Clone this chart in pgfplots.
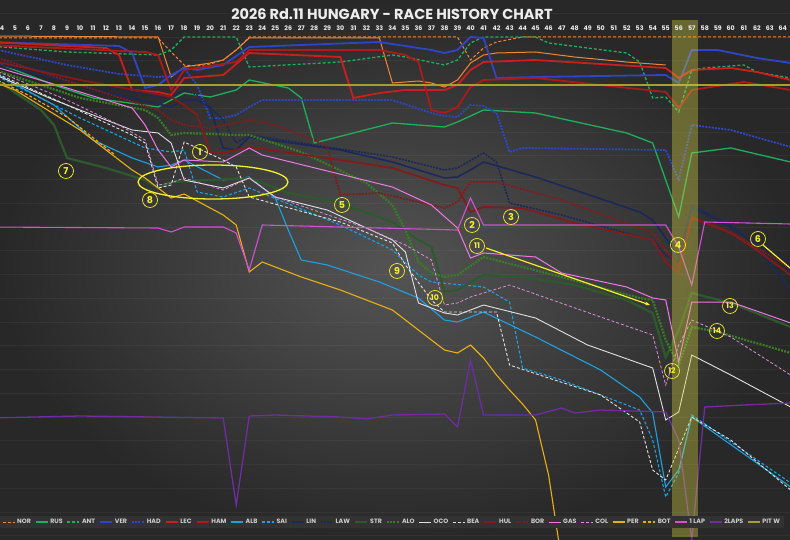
\documentclass[border=0pt]{standalone}
\usepackage{pgfplots}
\pgfplotsset{compat=1.18}
\usepackage{fontspec}
\setmainfont{Poppins}
\usetikzlibrary{arrows.meta}

\definecolor{bgin}{RGB}{84,84,84}
\definecolor{bgout}{RGB}{40,40,40}
\definecolor{cOR}{RGB}{240,135,50}
\definecolor{cMER}{RGB}{30,175,90}
\definecolor{cRB}{RGB}{45,70,200}
\definecolor{cFER}{RGB}{205,30,30}
\definecolor{cWIL}{RGB}{30,160,225}
\definecolor{cRBU}{RGB}{28,40,90}
\definecolor{cAMS}{RGB}{45,90,45}
\definecolor{cAMD}{RGB}{55,125,35}
\definecolor{cHAA}{RGB}{225,225,225}
\definecolor{cAUD}{RGB}{130,28,28}
\definecolor{cALP}{RGB}{240,120,230}
\definecolor{cALD}{RGB}{220,140,220}
\definecolor{cCAD}{RGB}{235,175,20}
\definecolor{cLAP}{RGB}{210,80,210}
\definecolor{cLAP2}{RGB}{110,45,160}
\definecolor{cPIT}{RGB}{165,160,45}
\definecolor{annY}{RGB}{245,240,40}
\definecolor{legbg}{RGB}{50,50,50}
\definecolor{legtx}{RGB}{205,205,205}

\tikzset{dsh/.style={dash pattern=on 3pt off 2pt}, dot/.style={dash pattern=on 2pt off 1.2pt}}

\begin{document}
\begin{tikzpicture}
\shade[inner color=bgin, outer color=bgout] (0,0) rectangle (790pt,540pt);
\begin{axis}[
  at={(0,0)}, anchor=south west, scale only axis, width=790pt, height=540pt,
  xmin=3.85, xmax=64.55, ymin=0, ymax=540, y dir=reverse,
  axis line style={draw=none}, xtick=\empty,
  ytick={13.25,37,...,540}, yticklabels={}, major tick length=0pt,
  ymajorgrids, grid style={white, opacity=0.045, line width=0.6pt},
  legend columns=-1,
  legend style={at={(0,0.0333)}, anchor=west, draw=none, fill=legbg,
    font=\fontsize{6.3}{7}\selectfont\bfseries, text=legtx,
    inner xsep=2pt, inner ysep=1pt,
    /tikz/every even column/.append style={column sep=2pt}},
  legend image code/.code={\draw[#1] (0pt,0pt) -- (12pt,0pt);},
  legend cell align=left,
]
% PIA (not in visible legend)
\addplot[cOR, line width=1pt, forget plot] coordinates {(3,36) (16,37) (17,77) (18,67) (19,65) (20,63) (21,60) (22,50) (23,38) (33,38) (34,83) (36,81) (37,83) (38,87) (39,80) (40,63) (41,55) (42,53) (45,52) (48,57) (52,62) (55,65)};
% NOR
\addplot[cOR, line width=1pt, dsh] coordinates {(3,38) (16,38) (17,52) (18,65) (19,66) (20,64) (21,60) (22,50) (23,37) (39,37) (40,60) (41,48) (42,42) (44,37) (64.6,37)};
\addlegendentry{NOR}
% RUS
\addplot[cMER, line width=1.3pt] coordinates {(3,60) (8,85) (11,98) (16,107) (17,100) (18,93) (20,97) (22,90) (23,80) (26,88) (27,98) (28,143) (31,133) (34,123) (38,127) (39,122) (41,110) (45,113) (52,133) (54,143) (56,217) (57,153) (60,148) (64.6,162)};
\addlegendentry{RUS}
% ANT
\addplot[cMER, line width=1.3pt, dsh] coordinates {(3,46) (9,52) (16,55) (17,50) (18,37) (22,37) (23,67) (30,62) (34,55) (35,57) (38,65) (39,60) (40,43) (41,37) (45,37) (46,43) (52,53) (53,62) (54,98) (55,97) (56,112) (57,70) (58,68) (61,65) (62,72) (64.6,78)};
\addlegendentry{ANT}
% VER
\addplot[cRB, line width=1.8pt] coordinates {(3,42) (13,46) (14,53) (15,88) (16,85) (17,75) (18,68) (19,70) (21,65) (23,47) (33,42) (37,50) (38,53) (39,50) (40,37) (41,38) (42,78) (45,77) (55,75) (56,83) (57,50) (59,50) (62,58) (64.6,63)};
\addlegendentry{VER}
% HAD
\addplot[cRB, line width=1.8pt, dot] coordinates {(3,48) (9,65) (13,74) (16,77) (17,76) (18,68) (19,85) (20,118) (21,118) (22,115) (23,107) (24,100) (34,100) (37,113) (38,116) (39,117) (40,105) (41,106) (42,113) (43,152) (44,148) (55,150) (56,180) (57,125) (60,130) (64.6,147)};
\addlegendentry{HAD}
% LEC
\addplot[cFER, line width=1.8pt] coordinates {(3,42) (12,48) (13,55) (14,90) (16,92) (17,95) (18,78) (21,75) (23,53) (30,57) (31,98) (33,93) (35,90) (38,90) (39,85) (40,70) (41,62) (45,60) (55,68) (56,78) (57,70) (60,68) (62,72) (64.6,80)};
\addlegendentry{LEC}
% HAM
\addplot[cFER!85!black, line width=1.8pt] coordinates {(3,45) (15,52) (16,55) (17,90) (18,70) (22,62) (23,50) (33,50) (35,55) (36,62) (37,110) (38,113) (39,107) (40,87) (41,80) (45,78) (55,92) (56,108) (57,90) (58,88) (61,82) (64.6,90)};
\addlegendentry{HAM}
% ALB
\addplot[cWIL, line width=1.1pt] coordinates {(3,70) (8,105) (11,140) (14,158) (16,167) (17,165) (18,160) (21,180) (23,177) (25,198) (26,230) (27,260) (29,265) (33,282) (36,298) (38,320) (39,322) (41,312) (45,337) (50,370) (53,397) (54,413) (55,487) (56,470) (57,417) (64.6,487)};
\addlegendentry{ALB}
% SAI
\addplot[cWIL, line width=1.1pt, dsh] coordinates {(3,72) (10,118) (15,148) (17,152) (18,150) (19,192) (21,197) (23,188) (30,225) (34,250) (36,275) (37,282) (41,287) (43,302) (44,368) (47,380) (50,395) (53,410) (54,440) (55,497) (56,473) (57,415) (64.6,483)};
\addlegendentry{SAI}
% LIN
\addplot[cRBU, line width=1.6pt] coordinates {(3,62) (8,78) (12,92) (16,104) (17,107) (18,100) (19,100) (20,108) (21,148) (22,150) (23,137) (30,150) (34,162) (38,178) (39,177) (40,170) (41,162) (45,177) (48,190) (53,212) (54,220) (55,238) (56,257) (57,208) (59,220) (61,235) (62,247) (64.6,290)};
\addlegendentry{LIN}
% LAW
\addplot[cRBU, line width=1.6pt, dot] coordinates {(3,57) (10,80) (16,97) (17,97) (18,90) (19,95) (20,107) (21,120) (22,143) (23,135) (27,143) (34,157) (38,170) (39,168) (41,153) (42,162) (43,203) (47,215) (53,237) (54,240) (55,255) (56,262) (57,205) (60,225) (62,245) (64.6,262)};
\addlegendentry{LAW}
% STR
\addplot[cAMS, line width=2.2pt] coordinates {(3,75) (7,110) (8,125) (9,158) (12,168) (15,180) (16,188) (17,182) (23,178) (26,193) (30,203) (34,222) (36,240) (37,247) (38,292) (39,290) (41,275) (44,277) (48,285) (52,300) (54,313) (55,357) (56,330) (57,293) (60,303) (64.6,327)};
\addlegendentry{STR}
% ALO
\addplot[cAMD, line width=2.2pt, dot] coordinates {(3,68) (10,98) (15,110) (16,118) (17,135) (18,133) (22,135) (23,135) (27,152) (32,183) (34,205) (35,230) (36,262) (37,273) (38,277) (39,275) (41,257) (47,277) (53,298) (54,300) (55,340) (56,365) (57,327) (59,332) (64.6,353)};
\addlegendentry{ALO}
% OCO
\addplot[cHAA, line width=0.9pt] coordinates {(3,72) (8,100) (14,130) (16,133) (17,143) (18,180) (21,188) (23,178) (25,197) (29,210) (34,240) (35,252) (36,303) (38,313) (39,315) (41,305) (45,318) (49,345) (54,368) (55,420) (56,412) (57,355) (60,375) (64.6,407)};
\addlegendentry{OCO}
% BEA
\addplot[cHAA, line width=0.9pt, dsh] coordinates {(3,70) (9,105) (14,135) (15,143) (16,188) (17,185) (18,142) (21,160) (22,167) (23,197) (30,222) (34,243) (35,265) (37,300) (38,312) (42,312) (43,365) (46,378) (50,395) (53,422) (54,470) (55,480) (57,417) (60,440) (64.6,490)};
\addlegendentry{BEA}
% HUL
\addplot[cAUD, line width=1.8pt] coordinates {(3,60) (10,80) (15,92) (17,97) (18,105) (19,115) (20,152) (21,153) (23,147) (30,160) (34,168) (38,185) (39,188) (40,212) (41,207) (44,208) (48,223) (54,240) (55,262) (56,273) (57,218) (60,233) (62,250) (64.6,275)};
\addlegendentry{HUL}
% BOR
\addplot[cAUD, line width=1.8pt, dot] coordinates {(3,55) (10,85) (16,110) (17,120) (18,125) (20,128) (23,120) (25,125) (28,140) (29,147) (30,195) (33,193) (37,205) (38,208) (39,202) (40,182) (42,182) (47,200) (53,228) (54,232) (55,250) (56,267) (57,217) (60,232) (64.6,268)};
\addlegendentry{BOR}
% GAS
\addplot[cALP, line width=1pt] coordinates {(3,65) (9,88) (14,108) (15,125) (16,150) (17,167) (18,160) (21,162) (23,148) (24,155) (34,187) (37,205) (39,228) (40,258) (41,253) (45,257) (47,273) (52,287) (54,298) (55,300) (56,362) (57,302) (60,302) (64.6,323)};
\addlegendentry{GAS}
% COL
\addplot[cALD, line width=0.8pt, dsh] coordinates {(3,68) (9,100) (13,125) (15,140) (16,185) (17,183) (18,178) (21,190) (23,178) (25,197) (32,228) (35,245) (37,260) (38,305) (39,303) (40,297) (43,285) (50,317) (54,335) (55,385) (56,345) (57,320) (60,337) (64.6,375)};
\addlegendentry{COL}
% PER
\addplot[cCAD, line width=1.1pt] coordinates {(3,80) (5,90) (10,130) (14,170) (15,178) (17,198) (18,194) (21,215) (22,225) (23,272) (24,262) (27,277) (30,290) (32,300) (34,310) (38,350) (39,353) (40,345) (41,358) (42,375) (43,390) (44,404) (45,420) (46,475) (47,560)};
\addlegendentry{PER}
% BOT
\addplot[cCAD, line width=1.1pt, dsh] coordinates {(3,76) (6,95) (9,117) (12,148) (12.7,155)};
\addlegendentry{BOT}
% 1 LAP
\addplot[cLAP, line width=1.1pt] coordinates {(3,227) (16,228) (17,232) (18,227) (21,227) (22,233) (23,270) (24,225) (39,230) (40,198) (41,225) (55,225) (56,247) (57,285) (58,222) (64.6,224)};
\addlegendentry{1 LAP}
% 2 LAPS
\addplot[cLAP2, line width=1.3pt] coordinates {(3,418) (10,416) (21,418) (22,505) (23,416) (25,415) (30,417) (32,419) (34,415) (38,414) (39,427) (40,360) (41,415) (45,415) (47,408) (48,413) (50,410) (55,412) (56,440) (57,540) (58,407) (61,405) (64.6,403)};
\addlegendentry{2LAPS}
% PIT W
\addplot[cPIT, line width=1.1pt] coordinates {(3,85) (64.6,85)};
\addlegendentry{PIT W}
% safety car band
\addplot[draw=none, fill=annY!70!gray, fill opacity=0.38, forget plot] coordinates {(55.5,20) (57.5,20) (57.5,537) (55.5,537)} -- cycle;
% lap numbers
\pgfplotsinvokeforeach{4,...,64}{\node[text=white!92!black, font=\fontsize{6.3}{7}\selectfont\bfseries] at (axis cs:#1,28) {#1};}
\end{axis}
\begin{scope}[x=1pt, y=-1pt, shift={(0,540pt)}]
\node[text=white!93!black, font=\fontsize{14.5}{16}\selectfont\bfseries] at (392,14) {2026 Rd.11 HUNGARY - RACE HISTORY CHART};
\draw[annY, line width=1.3pt] (213,182) ellipse (75 and 17);
\draw[annY, line width=1.2pt, -{Stealth[length=5pt]}] (486,248) -- (650,305);
\draw[annY, line width=1.2pt] (763,245) -- (790,268);
\tikzset{cn/.style={circle, draw=annY, line width=0.7pt, inner sep=0pt, minimum size=15pt, text=annY, font=\fontsize{9.5}{9.5}\selectfont\bfseries}}
\node[cn] at (200,152) {1};
\node[cn] at (472,225) {2};
\node[cn] at (511,217) {3};
\node[cn] at (678,245) {4};
\node[cn] at (342,205) {5};
\node[cn] at (758,239) {6};
\node[cn] at (66,171) {7};
\node[cn] at (150,200) {8};
\node[cn] at (397,271) {9};
\node[cn, font=\fontsize{7.8}{8}\selectfont\bfseries] at (435,298) {10};
\node[cn, font=\fontsize{7.8}{8}\selectfont\bfseries] at (477,246) {11};
\node[cn, font=\fontsize{7.8}{8}\selectfont\bfseries] at (672,371) {12};
\node[cn, font=\fontsize{7.8}{8}\selectfont\bfseries] at (730,306) {13};
\node[cn, font=\fontsize{7.8}{8}\selectfont\bfseries] at (717,331) {14};
\end{scope}
\pgfresetboundingbox
\path[use as bounding box] (0,0) rectangle (790pt,540pt);
\end{tikzpicture}
\end{document}
